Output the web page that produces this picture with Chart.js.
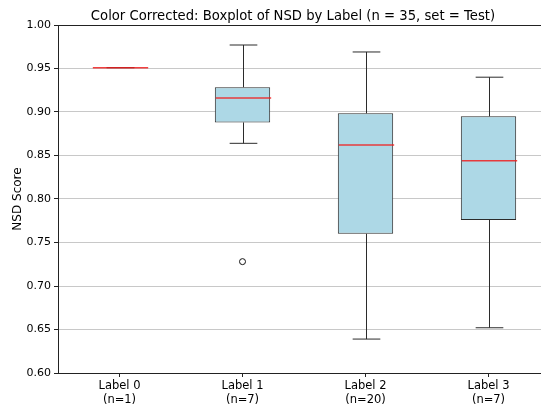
<!DOCTYPE html>
<html>
<head>
<meta charset="utf-8">
<script src="https://cdn.jsdelivr.net/npm/chart.js@4/dist/chart.umd.min.js"></script>
<style>
  html, body { margin: 0; padding: 0; background: #fff; overflow: hidden; }
  #wrap { width: 555px; height: 409px; }
</style>
</head>
<body>
<div id="wrap"><canvas id="myChart"></canvas></div>
<script>
var chartTitle = 'Color Corrected: Boxplot of NSD by Label (n = 35, set = Test)';
var labels = [["Label 0", "(n=1)"], ["Label 1", "(n=7)"], ["Label 2", "(n=20)"], ["Label 3", "(n=7)"]];
var whiskerLow = [0.951, 0.864, 0.639, 0.652];
var q1 = [0.951, 0.888, 0.760, 0.776];
var medians = [0.951, 0.916, 0.862, 0.844];
var q3 = [0.951, 0.9285, 0.8985, 0.895];
var whiskerHigh = [0.951, 0.977, 0.969, 0.940];
var outliers = [null, 0.728, null, null];

var boxData = q1.map((v, i) => i === 0 ? null : [v, q3[i]]);

// whiskers, caps, medians, top spine and title, placed with the chart scales
var boxExtras = {
    id: 'boxExtras',
    afterDatasetsDraw: (chart) => {
        const ctx = chart.ctx;
        const xs = chart.scales.x;
        const ys = chart.scales.y;
        const meta = chart.getDatasetMeta(0);
        const bw = meta.data[1].width;
        ctx.save();
        for (let i = 0; i < labels.length; i++) {
            const cx = Math.round(xs.getPixelForValue(i)) + 0.5;
            const capW = bw / 2;
            ctx.strokeStyle = '#2b2b2b';
            ctx.lineWidth = 1;
            ctx.beginPath();
            ctx.moveTo(cx, ys.getPixelForValue(q3[i]));
            ctx.lineTo(cx, ys.getPixelForValue(whiskerHigh[i]));
            ctx.moveTo(cx, ys.getPixelForValue(q1[i]));
            ctx.lineTo(cx, ys.getPixelForValue(whiskerLow[i]));
            ctx.moveTo(cx - capW / 2, ys.getPixelForValue(whiskerHigh[i]));
            ctx.lineTo(cx + capW / 2, ys.getPixelForValue(whiskerHigh[i]));
            ctx.moveTo(cx - capW / 2, ys.getPixelForValue(whiskerLow[i]));
            ctx.lineTo(cx + capW / 2, ys.getPixelForValue(whiskerLow[i]));
            ctx.stroke();
            ctx.strokeStyle = 'rgba(240, 30, 30, 0.85)';
            ctx.lineWidth = 1.5;
            ctx.beginPath();
            ctx.moveTo(cx - bw / 2, ys.getPixelForValue(medians[i]));
            ctx.lineTo(cx + bw / 2, ys.getPixelForValue(medians[i]));
            ctx.stroke();
        }
        const a = chart.chartArea;
        ctx.strokeStyle = '#222';
        ctx.lineWidth = 1;
        ctx.beginPath();
        ctx.moveTo(a.left, a.top + 0.5);
        ctx.lineTo(a.right, a.top + 0.5);
        ctx.stroke();

        ctx.fillStyle = '#000';
        ctx.font = '13.2px "DejaVu Sans"';
        ctx.textAlign = 'center';
        ctx.textBaseline = 'middle';
        ctx.fillText(chartTitle, a.left + 235, 16.5);
        ctx.restore();
    }
};

var ctx = document.getElementById('myChart').getContext('2d');
var myChart = new Chart(ctx, {
    type: 'bar',
    data: {
        labels: labels,
        datasets: [{
            label: 'Box',
            data: boxData,
            backgroundColor: '#add8e6',
            borderColor: '#2b2b2b',
            borderWidth: 1,
            borderSkipped: false,
            categoryPercentage: 1,
            barPercentage: 0.45,
            order: 2
        },
        {
            type: 'scatter',
            label: 'Outliers',
            data: outliers,
            pointRadius: 3,
            pointBorderWidth: 1,
            pointBackgroundColor: 'rgba(0,0,0,0)',
            pointBorderColor: '#111',
            order: 1
        }]
    },
    options: {
        responsive: true,
        maintainAspectRatio: false,
        animation: false,
        layout: { padding: { left: 0, right: 1, top: 25, bottom: 0 } },
        plugins: {
            legend: { display: false },
            tooltip: { enabled: false },
            title: { display: false }
        },
        scales: {
            x: {
                type: 'category',
                offset: true,
                grid: {
                    display: true,
                    drawOnChartArea: false,
                    offset: false,
                    tickLength: 4,
                    tickColor: '#222'
                },
                border: { display: true, color: '#222' },
                ticks: {
                    color: '#000',
                    padding: 2,
                    maxRotation: 0,
                    font: { family: 'DejaVu Sans', size: 11.5, lineHeight: 1.2 }
                },
                afterFit: (scale) => { scale.height = 36; }
            },
            y: {
                min: 0.6,
                max: 1.0,
                ticks: {
                    stepSize: 0.05,
                    color: '#000',
                    padding: 3,
                    font: { family: 'DejaVu Sans', size: 11 },
                    callback: (v) => v.toFixed(2)
                },
                grid: {
                    color: '#c8c8c8',
                    tickLength: 4,
                    tickColor: '#222'
                },
                border: { display: true, color: '#222' },
                title: {
                    display: true,
                    text: 'NSD Score',
                    color: '#000',
                    font: { family: 'DejaVu Sans', size: 12 },
                    padding: { top: 11, bottom: 0 }
                },
                afterFit: (scale) => { scale.width = 58; }
            }
        }
    },
    plugins: [boxExtras]
});
</script>
</body>
</html>
